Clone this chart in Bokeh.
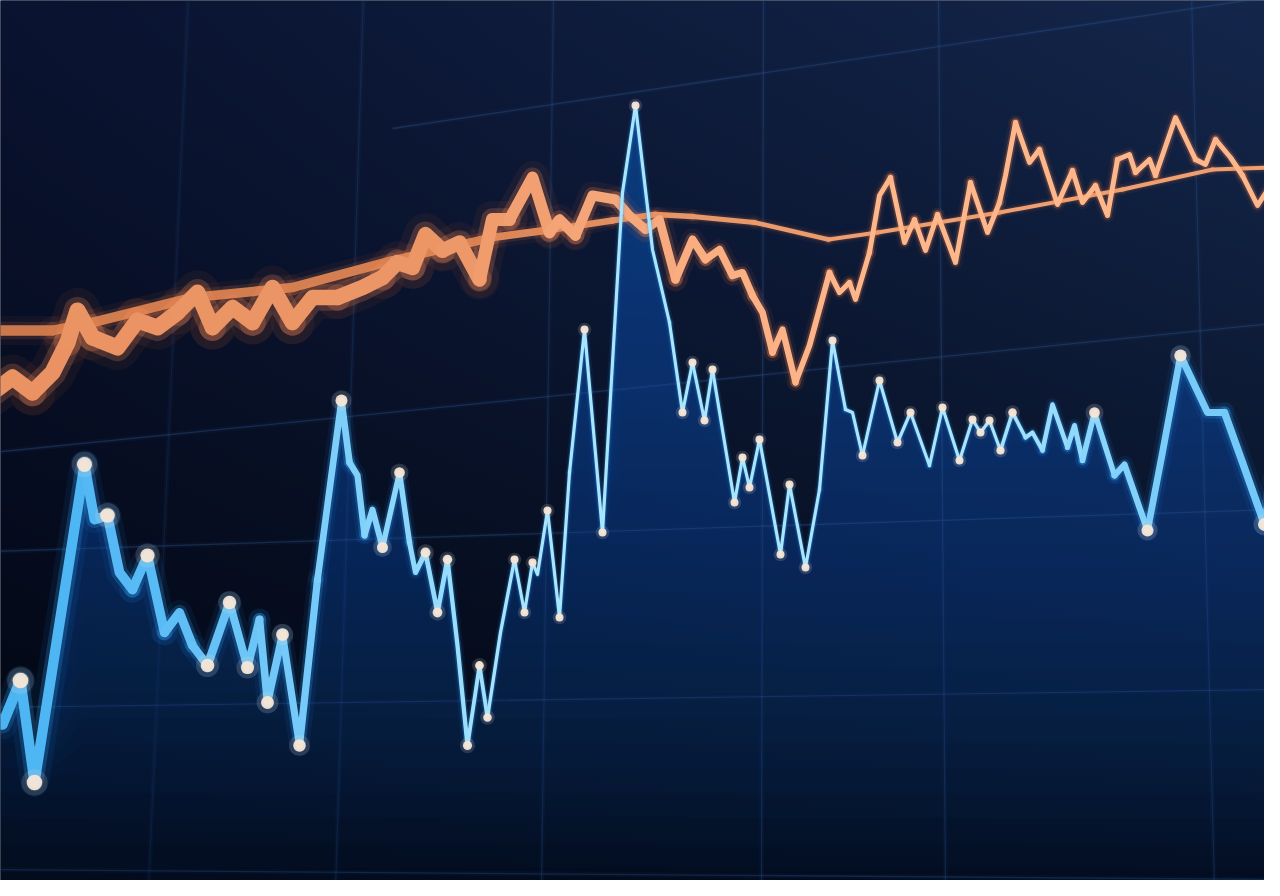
import numpy as np
from bokeh.plotting import figure
from bokeh.models import Range1d, ColumnDataSource
from bokeh.embed import file_html
from bokeh.resources import INLINE

# ---------------- data ----------------
SCREEN_H = 896  # values below are read as height from the top edge and flipped

blue_t = [0, 10, 28, 42, 92, 102, 115, 127, 140, 155, 172, 187, 200, 215, 237, 255, 267, 275, 290, 307,
          325, 349, 357, 365, 372, 380, 390, 407, 417, 423, 433, 445, 455, 465, 475, 487, 495, 508, 522, 532,
          540, 545, 555, 567, 577, 592, 610, 630, 643, 660, 677, 690, 700, 712, 720, 742, 750, 757, 767, 788,
          797, 813, 827, 840, 853, 860, 870, 887, 905, 918, 937, 950, 967, 980, 988, 997, 1008, 1020, 1033, 1040,
          1050, 1060, 1075, 1082, 1090, 1102, 1122, 1132, 1155, 1170, 1188, 1215, 1232, 1250, 1272, 1280]
blue_read = [720, 732, 688, 790, 472, 527, 523, 580, 597, 563, 640, 620, 653, 673, 610, 675, 627, 710, 642, 753,
             587, 408, 470, 483, 543, 517, 555, 480, 550, 580, 560, 620, 567, 653, 753, 673, 725, 640, 567, 620,
             570, 582, 518, 625, 480, 337, 540, 200, 113, 257, 330, 420, 370, 428, 377, 510, 465, 495, 447, 562,
             492, 575, 497, 348, 417, 420, 463, 388, 450, 420, 473, 415, 468, 427, 440, 428, 458, 420, 445, 440,
             458, 412, 455, 433, 468, 420, 483, 472, 538, 460, 363, 420, 420, 470, 532, 487]
blue_marked = [0, 0, 1, 1, 1, 0, 1, 0, 0, 1, 0, 0, 0, 1, 1, 1, 0, 1, 1, 1,
               0, 1, 0, 0, 0, 0, 1, 1, 0, 0, 1, 1, 1, 0, 1, 1, 1, 0, 1, 1,
               1, 0, 1, 1, 0, 1, 1, 0, 1, 0, 0, 1, 1, 1, 1, 1, 1, 1, 1, 1,
               1, 1, 0, 1, 0, 0, 1, 1, 1, 1, 0, 1, 1, 1, 1, 1, 1, 1, 0, 0,
               0, 0, 0, 0, 0, 1, 0, 0, 1, 0, 1, 0, 0, 0, 1, 0]

orange_t = [0, 20, 40, 60, 75, 85, 100, 125, 145, 165, 185, 205, 220, 240, 260, 280, 300, 320, 345, 370,
            390, 405, 420, 433, 450, 467, 487, 500, 517, 540, 557, 567, 583, 600, 623, 637, 653, 667, 683, 700,
            713, 727, 740, 750, 760, 770, 780, 790, 803, 817, 837, 847, 857, 863, 877, 887, 898, 912, 922, 933,
            945, 963, 978, 995, 1007, 1013, 1023, 1037, 1047, 1065, 1080, 1090, 1103, 1115, 1125, 1137, 1143,
            1157, 1163, 1183, 1203, 1213, 1223, 1238, 1250, 1265, 1280]
orange_read = [400, 385, 400, 380, 350, 318, 345, 355, 328, 335, 320, 300, 335, 315, 330, 295, 330, 305, 305, 295,
               285, 270, 275, 242, 258, 250, 287, 227, 227, 185, 240, 227, 243, 203, 207, 223, 237, 227, 287, 247,
               267, 257, 283, 280, 303, 320, 360, 337, 390, 353, 280, 300, 290, 307, 260, 203, 185, 250, 227, 258,
               222, 270, 190, 240, 210, 183, 130, 170, 157, 212, 178, 210, 193, 223, 167, 162, 180,
               167, 183, 125, 167, 172, 147, 165, 183, 213, 190]

avg_t = [0, 60, 100, 200, 300, 400, 500, 560, 620, 663, 700, 762, 836, 885, 1007, 1130, 1220, 1280]
avg_read = [338, 338, 330, 305, 295, 268, 245, 237, 228, 222, 224, 230, 247, 240, 220, 197, 177, 175]

blue_val = [SCREEN_H - v for v in blue_read]
orange_val = [SCREEN_H - v for v in orange_read]
avg_val = [SCREEN_H - v for v in avg_read]

# perspective grid (start/end of horizontal rules, top/bottom x of vertical rules)
grid_h_x0 = [400, 0, 0, 0, 0]
grid_h_left = [SCREEN_H - 136, SCREEN_H - 460, SCREEN_H - 559, SCREEN_H - 715, SCREEN_H - 877]
grid_h_right = [SCREEN_H - 4, SCREEN_H - 331, SCREEN_H - 517, SCREEN_H - 697, SCREEN_H - 887]
grid_v_top = [196, 371, 561, 771, 946, 1199]
grid_v_bottom = [156, 343, 549, 769, 953, 1222]
grid_v_alpha = [0.16, 0.24, 0.3, 0.36, 0.36, 0.33]


# ---------------- helpers ----------------
def hex2rgb(c):
    return np.array([int(c[i:i + 2], 16) for i in (1, 3, 5)], float)


def mix(c1, c2, t):
    a, b = hex2rgb(c1), hex2rgb(c2)
    c = a + (b - a) * float(t)
    return "#%02x%02x%02x" % tuple(int(round(v)) for v in c)


def chunk_source(xs, ys, blur_x, blur_v, wmin, wadd, sharp_col, blur_col, step=2):
    """Split a polyline into short runs so that its width can follow the depth-of-field."""
    xs = np.asarray(xs, float)
    ys = np.asarray(ys, float)
    cx, cy, w, col = [], [], [], []
    n = len(xs)
    i = 0
    while i < n - 1:
        j = min(i + step, n - 1)
        sx = xs[i:j + 1]
        sy = ys[i:j + 1]
        b = float(np.interp(sx.mean(), blur_x, blur_v))
        cx.append(list(sx))
        cy.append(list(sy))
        w.append(wmin + wadd * b)
        col.append(mix(sharp_col, blur_col, b))
        i = j
    w = np.array(w)
    return ColumnDataSource(dict(xs=cx, ys=cy, w=w, w2=w * 1.7, w3=w * 2.8, col=col))


def draw_series(src, glow1, glow2, a1, a2):
    p.multi_line('xs', 'ys', source=src, line_width='w3', line_color=glow1, line_alpha=a1,
                 line_cap="round", line_join="round")
    p.multi_line('xs', 'ys', source=src, line_width='w2', line_color=glow2, line_alpha=a2,
                 line_cap="round", line_join="round")
    p.multi_line('xs', 'ys', source=src, line_width='w', line_color='col', line_alpha=1.0,
                 line_cap="round", line_join="round")


# ---------------- figure ----------------
p = figure(width=1264, height=880, output_backend="svg", toolbar_location=None,
           x_range=Range1d(8, 1272), y_range=Range1d(8, 888), min_border=0)
p.axis.visible = False
p.grid.visible = False
p.outline_line_color = None
p.background_fill_color = "#060d1e"
p.border_fill_color = "#060d1e"

# background gradient
gh, gw = 112, 160
u = np.linspace(0, 1, gw)[None, :, None]
v = np.linspace(0, 1, gh)[:, None, None]  # 0 = bottom row
top = hex2rgb("#0a1330") * (1 - u) + hex2rgb("#14274c") * u
bot = hex2rgb("#02050d") * (1 - u) + hex2rgb("#020712") * u
vv = v ** 0.8
rgb = bot * (1 - vv) + top * vv
img = np.empty((gh, gw), dtype=np.uint32)
view = img.view(dtype=np.uint8).reshape((gh, gw, 4))
view[..., 0] = rgb[..., 0].astype(np.uint8)
view[..., 1] = rgb[..., 1].astype(np.uint8)
view[..., 2] = rgb[..., 2].astype(np.uint8)
view[..., 3] = 255
p.image_rgba(image=[img], x=0, y=0, dw=1280, dh=896)

# grid
nh = len(grid_h_left)
nv = len(grid_v_top)
p.segment(x0=grid_h_x0, y0=grid_h_left, x1=[1280] * nh, y1=grid_h_right,
          line_color="#2b4f8a", line_alpha=0.07, line_width=5)
p.segment(x0=grid_h_x0, y0=grid_h_left, x1=[1280] * nh, y1=grid_h_right,
          line_color="#33578f", line_alpha=0.36, line_width=1.3)
p.segment(x0=grid_v_top, y0=[896] * nv, x1=grid_v_bottom, y1=[0] * nv,
          line_color="#2b4f8a", line_alpha=0.07, line_width=5)
p.segment(x0=grid_v_top, y0=[896] * nv, x1=grid_v_bottom, y1=[0] * nv,
          line_color="#2d4f85", line_alpha=grid_v_alpha, line_width=1.3)

# blue area fill (many thin layers fake a vertical gradient)
bx = np.asarray(blue_t, float)
by = np.asarray(blue_val, float)
p.varea(x=bx, y1=np.zeros_like(by), y2=by, fill_color="#0a2a58", fill_alpha=0.2)
for lvl in range(20, 800, 25):
    p.varea(x=bx, y1=np.minimum(lvl, by), y2=by, fill_color="#1a5cb0", fill_alpha=0.034)

# moving average
ma_src = chunk_source(avg_t, avg_val, [0, 80, 450, 650, 900, 1280], [1, 0.9, 0.75, 0.3, 0.05, 0.05],
                      3.6, 7, "#f2a272", "#c9774b", step=1)
draw_series(ma_src, "#ff7b3a", "#e88a58", 0.05, 0.12)

# orange series
or_src = chunk_source(orange_t, orange_val, [0, 450, 560, 700, 860, 1280], [1, 0.9, 0.55, 0.3, 0.05, 0.05],
                      4.4, 12, "#ffb88d", "#ea9262")
draw_series(or_src, "#ff7a35", "#f08a55", 0.06, 0.22)

# blue series
bl_src = chunk_source(blue_t, blue_val, [0, 150, 350, 520, 1000, 1150, 1280], [1, 0.85, 0.45, 0, 0, 0.45, 0.6],
                      3.2, 7.5, "#a8e5ff", "#4ab3f3")
draw_series(bl_src, "#1e8ff0", "#36a6f5", 0.08, 0.22)

# markers on the blue series
mk = np.asarray(blue_marked, bool)
mx = bx[mk]
my = by[mk]
msize = np.interp(mx, [0, 350, 520, 1000, 1150, 1280], [16, 12, 8, 8, 12, 13])
dot_src = ColumnDataSource(dict(x=mx, y=my, s=msize, s2=msize * 1.7))
p.scatter('x', 'y', source=dot_src, size='s2', fill_color="#ffe3cc", fill_alpha=0.15, line_color=None)
p.scatter('x', 'y', source=dot_src, size='s', fill_color="#f7e6d6", fill_alpha=0.95, line_color=None)

open("out.html", "w").write(file_html(p, INLINE))
